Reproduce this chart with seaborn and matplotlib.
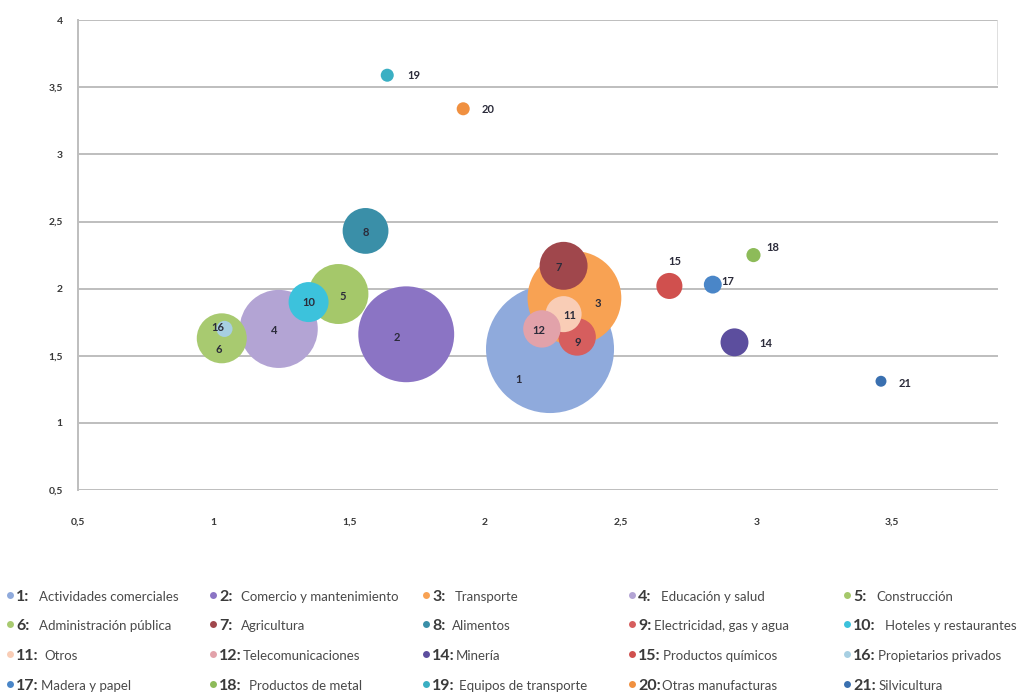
import numpy as np
import pandas as pd
import seaborn as sns
import matplotlib.pyplot as plt
from matplotlib.lines import Line2D
from matplotlib.ticker import FuncFormatter, MultipleLocator

# datos
sector = ['1', '2', '3', '4', '5', '6', '7', '8', '9', '10',
          '11', '12', '14', '15', '16', '17', '18', '19', '20', '21']
nombre = ['Actividades comerciales', 'Comercio y mantenimiento', 'Transporte',
          'Educación y salud', 'Construcción', 'Administración pública',
          'Agricultura', 'Alimentos', 'Electricidad, gas y agua',
          'Hoteles y restaurantes', 'Otros', 'Telecomunicaciones', 'Minería',
          'Productos químicos', 'Propietarios privados', 'Madera y papel',
          'Productos de metal', 'Equipos de transporte', 'Otras manufacturas',
          'Silvicultura']
x_val = [2.24, 1.71, 2.33, 1.24, 1.46, 1.03, 2.29, 1.56, 2.34, 1.35,
         2.29, 2.21, 2.92, 2.68, 1.04, 2.84, 2.99, 1.64, 1.92, 3.46]
y_val = [1.55, 1.66, 1.93, 1.70, 1.96, 1.63, 2.17, 2.43, 1.64, 1.90,
         1.81, 1.70, 1.60, 2.02, 1.70, 2.03, 2.25, 3.59, 3.34, 1.31]
peso = [164, 92, 88, 61, 36, 25, 23, 21, 14, 16,
        13, 14, 7.8, 6.8, 2.6, 3.2, 2.0, 1.7, 1.7, 1.2]
colores = ['#8FAADC', '#8B74C4', '#F8A253', '#B3A4D4', '#A5C86A',
           '#A8CA70', '#A0474C', '#3A8FA8', '#D65E5E', '#3CC2DC',
           '#F9CDB6', '#E2A2AA', '#5C4E9E', '#D0504E', '#A7CFE2',
           '#4A86C8', '#8DBB59', '#3AAFC3', '#F09040', '#3A70B0']

# separacion tras los dos puntos en la leyenda (pt)
sep = [7, 6, 7, 7, 7, 7, 6, 5, 2, 7, 4, 1, 1, 2, 2, 2, 5, 3, 1, 2]

# desplazamiento de etiquetas (px: derecha, abajo)
desp = [(-31, 30), (-9, 3), (23, 5), (-5, 2), (4, 2), (-3, 11), (-5, 2),
        (0, 2), (1, 6), (0, 0), (6, 1), (-3, 2), (31, 1), (5, -24),
        (-7, -1), (15, -3), (19, -8), (27, 0), (25, 1), (24, 2)]

df = pd.DataFrame({'sector': sector, 'x': x_val, 'y': y_val, 'peso': peso})
pal = dict(zip(sector, colores))

plt.rcParams['font.family'] = ['Lato', 'DejaVu Sans']

W, H = 1018, 696
fig = plt.figure(figsize=(W / 100, H / 100), dpi=100)
ax = fig.add_axes([0.0766, 0.296, 0.9034, 0.675])

pmax = max(peso)
sns.scatterplot(data=df, x='x', y='y', hue='sector', size='peso',
                palette=pal, sizes=(0, pmax * 51.8), size_norm=(0, pmax),
                linewidth=0, alpha=1, legend=False, ax=ax, zorder=3)

for i, s in enumerate(sector):
    dx, dy = desp[i]
    ax.annotate(s, (x_val[i], y_val[i]), xytext=(dx * 0.72, -dy * 0.72),
                textcoords='offset points', ha='center', va='center',
                fontsize=8, fontweight='bold', color='#2b2b3a', zorder=5)

ax.set_xlim(0.5, 3.89)
ax.set_ylim(0.5, 4)
ax.xaxis.set_major_locator(MultipleLocator(0.5))
ax.yaxis.set_major_locator(MultipleLocator(0.5))
fmt = FuncFormatter(lambda v, p: ('%g' % v).replace('.', ','))
ax.xaxis.set_major_formatter(fmt)
ax.yaxis.set_major_formatter(fmt)
ax.set_xlabel('')
ax.set_ylabel('')
ax.grid(axis='y', color='#BEBEBE', linewidth=1.4, zorder=0)
ax.grid(axis='x', visible=False)
ax.set_axisbelow(True)
for k in ['top', 'right', 'bottom']:
    ax.spines[k].set_visible(False)
ax.spines['left'].set_color('#BEBEBE')
ax.spines['left'].set_linewidth(1.4)
ax.axvline(3.89, ymin=0.865, ymax=1, color='#D9D9D9', linewidth=1.2)
ax.tick_params(length=0, labelsize=7.5, labelcolor='#383838')
ax.tick_params(axis='x', pad=20)
ax.tick_params(axis='y', pad=11)
for t in ax.get_xticklabels() + ax.get_yticklabels():
    t.set_fontweight('bold')

# leyenda: 4 filas x 5 columnas, ordenada por filas
col_x = [10, 213, 426, 632, 847]
row_y = [601, 630, 660, 690]   # linea base del texto, px desde arriba
for i in range(len(sector)):
    r, c = divmod(i, 5)
    xm = col_x[c] / W
    yb = 1 - row_y[r] / H
    fig.add_artist(Line2D([xm], [yb + 6 / H], marker='o', linestyle='',
                          markersize=5, markerfacecolor=colores[i],
                          markeredgewidth=0, transform=fig.transFigure))
    num = fig.text(xm + 6 / W, yb, sector[i] + ':', fontsize=11.5,
                   fontweight='bold', color='#3a3a3a', va='baseline')
    fig.add_artist(plt.Annotation(nombre[i], xy=(1, yb),
                                  xycoords=(num, 'figure fraction'),
                                  xytext=(sep[i], 0), textcoords='offset points',
                                  va='baseline', ha='left', fontsize=9.5,
                                  color='#4a4a4a'))

fig.savefig('out.png', dpi=100)
